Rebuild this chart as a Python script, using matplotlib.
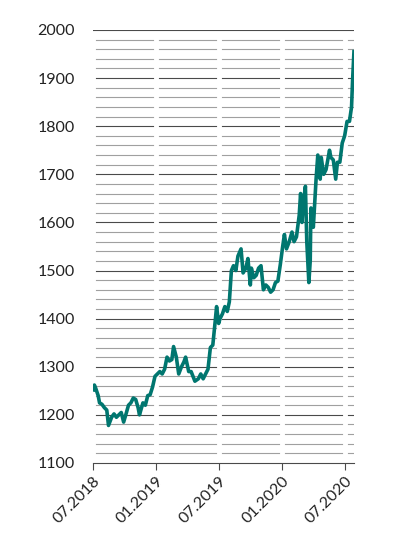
import matplotlib.pyplot as plt
import pandas as pd

plt.rcParams['font.family'] = ['Lato', 'DejaVu Sans']

# gold price, USD per ounce
dates = [
    "2018-07-02", "2018-07-05", "2018-07-09", "2018-07-16", "2018-07-20", "2018-07-27",
    "2018-08-03", "2018-08-10", "2018-08-15", "2018-08-24", "2018-08-31", "2018-09-07",
    "2018-09-14", "2018-09-21", "2018-09-28", "2018-10-05", "2018-10-12", "2018-10-19",
    "2018-10-26", "2018-11-02", "2018-11-09", "2018-11-13", "2018-11-23", "2018-11-30",
    "2018-12-07", "2018-12-14", "2018-12-21", "2018-12-28", "2019-01-04", "2019-01-11",
    "2019-01-18", "2019-01-25", "2019-02-01", "2019-02-08", "2019-02-15", "2019-02-20",
    "2019-02-28", "2019-03-07", "2019-03-15", "2019-03-22", "2019-03-27", "2019-04-05",
    "2019-04-12", "2019-04-23", "2019-05-03", "2019-05-10", "2019-05-17", "2019-05-24",
    "2019-05-31", "2019-06-07", "2019-06-14", "2019-06-21", "2019-06-25", "2019-07-01",
    "2019-07-05", "2019-07-12", "2019-07-19", "2019-07-26", "2019-08-01", "2019-08-07",
    "2019-08-13", "2019-08-20", "2019-08-26", "2019-09-04", "2019-09-10", "2019-09-18",
    "2019-09-24", "2019-10-01", "2019-10-04", "2019-10-11", "2019-10-18", "2019-10-25",
    "2019-11-01", "2019-11-08", "2019-11-15", "2019-11-22", "2019-11-29", "2019-12-06",
    "2019-12-13", "2019-12-20", "2019-12-27", "2020-01-03", "2020-01-08", "2020-01-14",
    "2020-01-22", "2020-01-30", "2020-02-05", "2020-02-12", "2020-02-20", "2020-02-24",
    "2020-02-28", "2020-03-03", "2020-03-09", "2020-03-13", "2020-03-19", "2020-03-23",
    "2020-03-25", "2020-04-01", "2020-04-09", "2020-04-14", "2020-04-21", "2020-04-24",
    "2020-05-01", "2020-05-08", "2020-05-18", "2020-05-22", "2020-05-29", "2020-06-05",
    "2020-06-10", "2020-06-17", "2020-06-24", "2020-07-01", "2020-07-08", "2020-07-15",
    "2020-07-21", "2020-07-24", "2020-07-27", "2020-07-28",
]
prices = [
    1252, 1262, 1255, 1240, 1225, 1222,
    1215, 1210, 1178, 1195, 1202, 1195,
    1200, 1205, 1185, 1202, 1220, 1225,
    1235, 1232, 1215, 1200, 1225, 1220,
    1240, 1242, 1258, 1280, 1285, 1290,
    1285, 1295, 1320, 1312, 1315, 1342,
    1320, 1285, 1300, 1310, 1320, 1290,
    1290, 1270, 1275, 1285, 1275, 1285,
    1295, 1340, 1345, 1395, 1425, 1390,
    1400, 1410, 1425, 1415, 1435, 1500,
    1510, 1500, 1530, 1545, 1495, 1505,
    1525, 1470, 1505, 1485, 1490, 1505,
    1510, 1460, 1470, 1465, 1455, 1460,
    1475, 1478, 1512, 1550, 1575, 1545,
    1560, 1580, 1560, 1570, 1615, 1660,
    1600, 1640, 1675, 1560, 1475, 1520,
    1630, 1590, 1690, 1740, 1690, 1735,
    1700, 1710, 1750, 1735, 1730, 1690,
    1725, 1725, 1765, 1780, 1810, 1810,
    1840, 1895, 1940, 1955,
]
tick_dates = ["2018-07-01", "2019-01-01", "2019-07-01", "2020-01-01", "2020-07-01"]
tick_labels = ["07.2018", "01.2019", "07.2019", "01.2020", "07.2020"]

x = pd.to_datetime(dates)
ticks = pd.to_datetime(tick_dates)

fig = plt.figure(figsize=(4.09, 5.35), dpi=100)
ax = fig.add_axes([0.2274, 0.1346, 0.638, 0.8094])

# horizontal lines every 20, darker at every 100
for level in range(1120, 2000, 20):
    if level % 100 == 0:
        ax.axhline(level, color="#4a4a4a", lw=0.8, zorder=1)
    else:
        ax.axhline(level, color="#a0a0a0", lw=0.8, zorder=1)
# white gaps at the month ticks
for t in ticks:
    ax.axvline(t, color="white", lw=3.5, zorder=2)
ax.axhline(2000, color="#4a4a4a", lw=0.8, zorder=3)

ax.plot(x, prices, color="#00766f", lw=2.6, zorder=4, solid_joinstyle="round")

ax.set_ylim(1100, 2000)
ax.set_xlim(pd.Timestamp("2018-07-01"), pd.Timestamp("2020-07-28"))
ax.set_yticks(range(1100, 2001, 100))
ax.set_xticks(ticks)
ax.set_xticklabels(tick_labels, rotation=45, ha="right", rotation_mode="anchor")

for s in ["top", "right", "left"]:
    ax.spines[s].set_visible(False)
ax.spines["bottom"].set_color("#4a4a4a")
ax.spines["bottom"].set_linewidth(0.8)
ax.spines["bottom"].set_zorder(5)
ax.tick_params(axis="y", length=0, pad=13, labelsize=11.5, labelcolor="#222222")
ax.tick_params(axis="x", length=5, width=0.8, color="#4a4a4a", pad=3, labelsize=11.5,
               labelcolor="#222222")

plt.savefig("out.png", dpi=100)
